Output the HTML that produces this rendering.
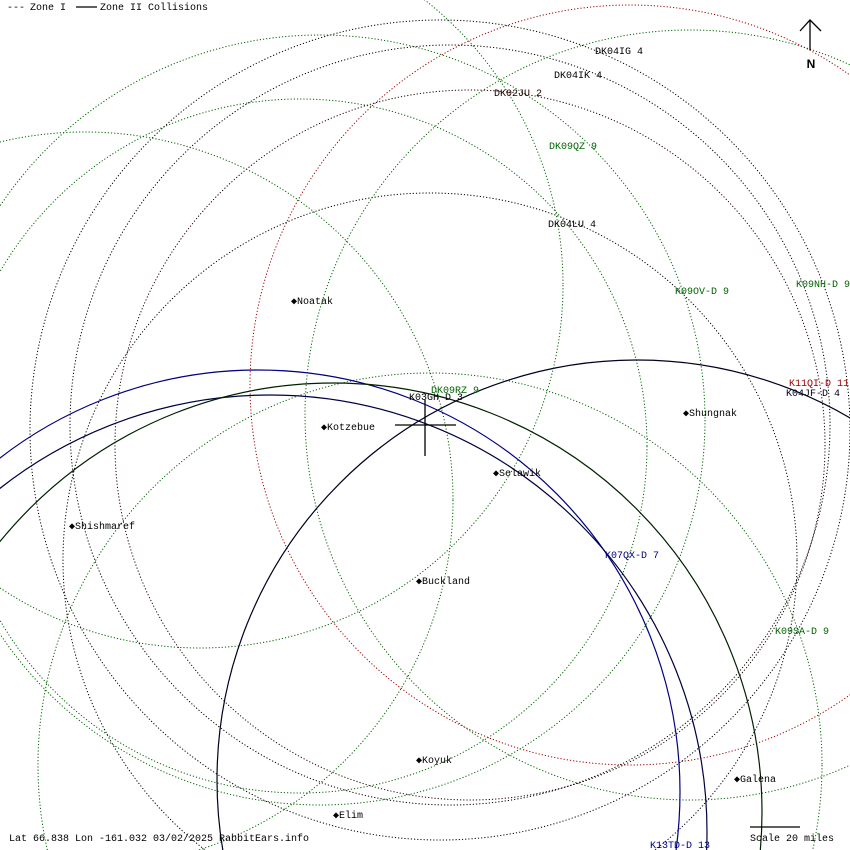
<!DOCTYPE html>
<html><head><meta charset="utf-8"><style>
html,body{margin:0;padding:0;background:#fff;width:850px;height:850px;overflow:hidden}
svg{display:block}
text{font-family:"Liberation Mono","DejaVu Sans Mono",monospace;font-size:10px}
</style></head><body>
<svg width="850" height="850" viewBox="0 0 850 850" xmlns="http://www.w3.org/2000/svg" overflow="hidden">
<defs><clipPath id="c"><rect width="850" height="850"/></clipPath></defs>
<rect width="850" height="850" fill="#fff"/>
<g clip-path="url(#c)">
<g fill="none" stroke-width="1" stroke-dasharray="1.2 2">
<circle cx="440" cy="430" r="410" stroke="#000"/>
<circle cx="450" cy="425" r="380" stroke="#000"/>
<circle cx="470" cy="445" r="355" stroke="#200"/>
<circle cx="430" cy="560" r="367" stroke="#000"/>
<circle cx="630" cy="385" r="380" stroke="#a00000"/>
<circle cx="690" cy="415" r="385" stroke="#006400"/>
<circle cx="320" cy="420" r="385" stroke="#006400"/>
<circle cx="85" cy="500" r="368" stroke="#006400"/>
<circle cx="200" cy="285" r="363" stroke="#006400"/>
<circle cx="430" cy="765" r="392" stroke="#006400"/>
<circle cx="300" cy="446" r="347" stroke="#006400"/>
</g>
<g fill="none" stroke-width="1.2">
<circle cx="258" cy="792" r="422" stroke="#000080"/>
<circle cx="270" cy="832" r="437" stroke="#000040"/>
<circle cx="333" cy="812" r="429" stroke="#002000"/>
<circle cx="637" cy="780" r="420" stroke="#000020"/>
</g>
</g>
<g stroke="#000" stroke-width="1.3">
<line x1="395" y1="425" x2="456" y2="425"/>
<line x1="425" y1="400" x2="425" y2="456"/>
<line x1="810" y1="20" x2="810" y2="50"/>
<polyline points="800,31 810,20 821,31" fill="none"/>
<line x1="750" y1="827" x2="800" y2="827"/>
<line x1="76" y1="7" x2="97" y2="7"/>
</g>
<text x="811" y="68" text-anchor="middle" style="font-family:'Liberation Sans',sans-serif;font-weight:bold;font-size:12px">N</text>
<g fill="#000">
<text x="7" y="10">---</text>
<text x="30" y="10">Zone I</text>
<text x="100" y="10">Zone II Collisions</text>
<text x="595" y="54">DK04IG 4</text>
<text x="554" y="78">DK04IK 4</text>
<text x="494" y="96" fill="#200">DK02JU 2</text>
<text x="549" y="149" fill="#006400">DK09QZ 9</text>
<text x="548" y="227">DK04LU 4</text>
<text x="675" y="294" fill="#006400">K09OV-D 9</text>
<text x="796" y="287" fill="#006400">K09NH-D 9</text>
<text x="789" y="386" fill="#a00000">K11QI-D 11</text>
<text x="786" y="396" fill="#000020">K04JF-D 4</text>
<text x="431" y="393" fill="#006400">DK09RZ 9</text>
<text x="409" y="400">K03GH-D 3</text>
<text x="605" y="558" fill="#000080">K07QX-D 7</text>
<text x="775" y="634" fill="#006400">K09SA-D 9</text>
<text x="650" y="848" fill="#000080">K13TD-D 13</text>
<text x="750" y="841">Scale 20 miles</text>
<text x="9" y="841">Lat 66.838 Lon -161.032 03/02/2025 RabbitEars.info</text>
<text x="291" y="304">◆Noatak</text>
<text x="321" y="430">◆Kotzebue</text>
<text x="683" y="416">◆Shungnak</text>
<text x="493" y="476">◆Selawik</text>
<text x="69" y="529">◆Shishmaref</text>
<text x="416" y="584">◆Buckland</text>
<text x="416" y="763">◆Koyuk</text>
<text x="734" y="782">◆Galena</text>
<text x="333" y="818">◆Elim</text>
</g>
</svg>
</body></html>
